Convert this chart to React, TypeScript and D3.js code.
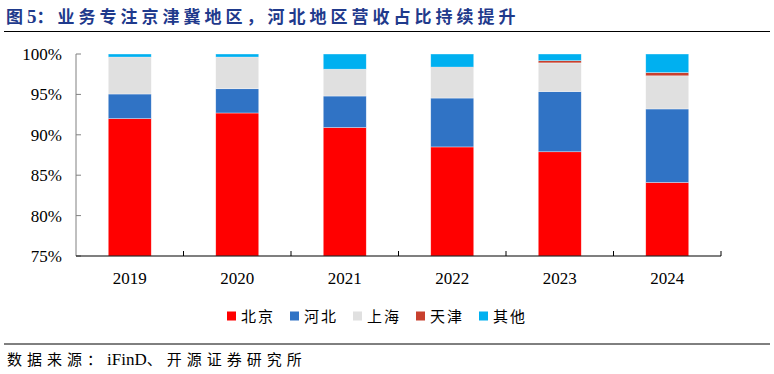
import React, { useEffect, useRef } from 'react';
import * as d3 from 'd3';

const years = ['2019', '2020', '2021', '2022', '2023', '2024'];
const beijing = [92.0, 92.7, 90.9, 88.5, 87.9, 84.1];
const hebei = [3.05, 3.0, 3.9, 6.05, 7.45, 9.1];
const shanghai = [4.55, 3.9, 3.3, 3.8, 3.55, 4.1];
const tianjin = [0.02, 0.02, 0.02, 0.03, 0.27, 0.4];
const others = [0.38, 0.38, 1.88, 1.62, 0.83, 2.3];
const seriesNames = ['北京', '河北', '上海', '天津', '其他'];
const seriesColors = ['#FF0000', '#3073C5', '#E0E0E0', '#C8402E', '#00B0F0'];
const yTicks = [75, 80, 85, 90, 95, 100];

const App: React.FC = () => {
  const svgRef = useRef<SVGSVGElement>(null);

  useEffect(() => {
    const svg = d3.select(svgRef.current);
    svg.selectAll('*').remove();

    const W = 774;
    const H = 374;
    const margin = { left: 76, right: 53, top: 54, bottom: 118 };
    const plotW = W - margin.left - margin.right;
    const plotH = H - margin.top - margin.bottom;

    const rows = years.map((y, i) => ({
      year: y,
      北京: beijing[i],
      河北: hebei[i],
      上海: shanghai[i],
      天津: tianjin[i],
      其他: others[i],
    }));
    const stack = d3.stack<any>().keys(seriesNames);
    const stacked = stack(rows);

    const x = d3.scaleBand<string>().domain(years).range([0, plotW]).paddingInner(0.6).paddingOuter(0.3);
    const y = d3.scaleLinear().domain([75, 100]).range([plotH, 0]).clamp(true);
    const color = d3.scaleOrdinal<string>().domain(seriesNames).range(seriesColors);

    const cjk = '"Noto Sans CJK SC", sans-serif';
    const serif = '"Liberation Serif", "Times New Roman", serif';

    // title
    const title = svg.append('text')
      .attr('x', 6)
      .attr('y', 23)
      .style('font-family', cjk)
      .style('font-size', '17px')
      .style('font-weight', 'bold')
      .style('fill', '#1F3A8C');
    title.append('tspan').style('letter-spacing', '4px').text('图');
    title.append('tspan').style('font-family', serif).style('font-size', '19px').text('5');
    title.append('tspan').style('letter-spacing', '4px').text('：业务专注京津冀地区，河北地区营收占比持续提升');

    svg.append('line')
      .attr('x1', 4).attr('x2', 770)
      .attr('y1', 31.5).attr('y2', 31.5)
      .attr('stroke', '#000').attr('stroke-width', 1);

    const g = svg.append('g').attr('transform', `translate(${margin.left},${margin.top})`);

    // bars
    g.selectAll('.layer')
      .data(stacked)
      .enter()
      .append('g')
      .attr('fill', d => color(d.key))
      .selectAll('rect')
      .data(d => d)
      .enter()
      .append('rect')
      .attr('x', d => x(d.data.year) || 0)
      .attr('width', x.bandwidth())
      .attr('y', d => y(d[1]))
      .attr('height', d => Math.max(0, y(d[0]) - y(d[1])))
      .attr('stroke', '#fff')
      .attr('stroke-width', 0.6)
      .attr('stroke-opacity', 0.6);

    // y axis
    g.append('line')
      .attr('x1', 0).attr('x2', 0).attr('y1', 0).attr('y2', plotH)
      .attr('stroke', '#808080').attr('stroke-width', 1);
    g.selectAll('.ytick')
      .data(yTicks)
      .enter()
      .append('line')
      .attr('x1', 0).attr('x2', 5)
      .attr('y1', d => y(d)).attr('y2', d => y(d))
      .attr('stroke', '#808080');
    g.selectAll('.ylab')
      .data(yTicks)
      .enter()
      .append('text')
      .attr('x', -14)
      .attr('y', d => y(d) + 6)
      .attr('text-anchor', 'end')
      .style('font-family', serif)
      .style('font-size', '17px')
      .style('fill', '#000')
      .text(d => `${d}%`);

    // x axis
    g.append('line')
      .attr('x1', 0).attr('x2', plotW).attr('y1', plotH).attr('y2', plotH)
      .attr('stroke', '#000').attr('stroke-width', 1.2);
    const step = x.step();
    g.selectAll('.xtick')
      .data(years)
      .enter()
      .append('line')
      .attr('x1', (_, i) => (i + 1) * step)
      .attr('x2', (_, i) => (i + 1) * step)
      .attr('y1', plotH).attr('y2', plotH - 5)
      .attr('stroke', '#000');
    g.selectAll('.xlab')
      .data(years)
      .enter()
      .append('text')
      .attr('x', d => (x(d) || 0) + x.bandwidth() / 2)
      .attr('y', plotH + 28)
      .attr('text-anchor', 'middle')
      .style('font-family', serif)
      .style('font-size', '17px')
      .style('fill', '#000')
      .text(d => d);

    // legend
    const legend = svg.append('g').attr('transform', 'translate(227, 316)');
    seriesNames.forEach((name, i) => {
      const item = legend.append('g').attr('transform', `translate(${i * 63}, 0)`);
      item.append('rect')
        .attr('x', 0).attr('y', -4.5)
        .attr('width', 9).attr('height', 9)
        .attr('fill', color(name));
      item.append('text')
        .attr('x', 14)
        .attr('y', 5.5)
        .style('font-family', cjk)
        .style('font-size', '15px')
        .style('letter-spacing', '2px')
        .style('fill', '#000')
        .text(name);
    });

    // footer
    svg.append('line')
      .attr('x1', 4).attr('x2', 770)
      .attr('y1', 344).attr('y2', 344)
      .attr('stroke', '#000').attr('stroke-width', 1);
    const src = svg.append('text')
      .attr('x', 7)
      .attr('y', 365)
      .style('font-family', cjk)
      .style('font-size', '15px')
      .style('fill', '#000');
    src.append('tspan').style('letter-spacing', '5px').text('数据来源：');
    src.append('tspan').style('font-family', serif).style('font-size', '17px').text('iFinD');
    src.append('tspan').style('letter-spacing', '5px').text('、开源证券研究所');
  }, []);

  return (
    <div style={{ position: 'absolute', left: 0, top: 0 }}>
      <svg ref={svgRef} width={774} height={374} style={{ display: 'block', background: '#fff' }} />
    </div>
  );
};

export default App;
